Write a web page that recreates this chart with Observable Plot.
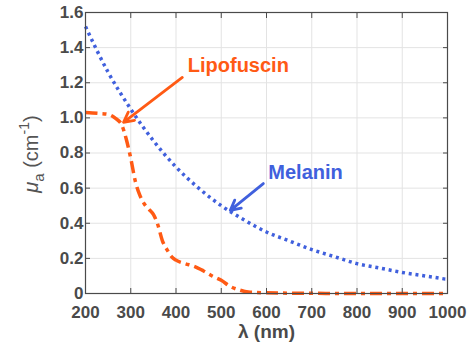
<!DOCTYPE html>
<html><head><meta charset="utf-8">
<script src="https://cdn.jsdelivr.net/npm/d3@7"></script>
<script src="https://cdn.jsdelivr.net/npm/@observablehq/plot@0.6"></script>
<style>body{margin:0;background:#fff}</style>
</head><body><div id="chart"></div>
<script>
const xTicks = [200,300,400,500,600,700,800,900,1000];
const yTicks = [0,0.2,0.4,0.6,0.8,1.0,1.2,1.4,1.6];

const melaninX = [200,250,300,350,400,450,500,550,600,650,700,750,800,850,900,950,1000];
const melaninY = [1.52,1.26,1.05,0.87,0.72,0.60,0.50,0.42,0.35,0.30,0.25,0.21,0.17,0.145,0.12,0.10,0.08];

const lipoX = [200,230,250,265,280,290,300,310,320,330,340,350,360,370,380,390,400,420,440,460,480,500,520,540,560,600,700,800,900,1000];
const lipoY = [1.03,1.025,1.02,1.00,0.96,0.88,0.77,0.64,0.56,0.51,0.48,0.45,0.39,0.30,0.25,0.21,0.19,0.17,0.155,0.13,0.10,0.075,0.04,0.02,0.008,0.004,0.001,0,0,0];

const labelNames = ["Lipofuscin","Melanin"];
const labelX = [426,604];
const labelY = [1.30,0.69];
const arrowX1 = [414,593];
const arrowY1 = [1.23,0.626];
const arrowX2 = [284,520];
const arrowY2 = [0.975,0.473];
const colors = ["#ff5a14","#4060dd"];

const melanin = melaninX.map((x,i)=>({x, y: melaninY[i]}));
const lipo = lipoX.map((x,i)=>({x, y: lipoY[i]}));
const notes = labelNames.map((t,i)=>({t, x: labelX[i], y: labelY[i], x1: arrowX1[i], y1: arrowY1[i], x2: arrowX2[i], y2: arrowY2[i], c: colors[i]}));

const axisColor = "#4a4a4a";
const plot = Plot.plot({
  width: 468, height: 349,
  marginLeft: 85, marginRight: 21, marginTop: 12, marginBottom: 56,
  style: {fontFamily: "'Liberation Sans', Arial, sans-serif", background: "#fff", color: axisColor},
  x: {domain: [200,1000]},
  y: {domain: [0,1.6]},
  marks: [
    Plot.gridX(xTicks, {stroke: "#e3e3e3", strokeOpacity: 1}),
    Plot.gridY(yTicks, {stroke: "#e3e3e3", strokeOpacity: 1}),
    Plot.line(melanin, {x: "x", y: "y", stroke: colors[1], strokeWidth: 3.5, strokeDasharray: "3,3.8", strokeLinecap: "butt", curve: "monotone-x"}),
    Plot.line(lipo, {x: "x", y: "y", stroke: colors[0], strokeWidth: 3.5, strokeDasharray: "12,5,4,5", strokeLinecap: "butt", curve: "monotone-x"}),
    Plot.arrow(notes, {x1: "x1", y1: "y1", x2: "x2", y2: "y2", stroke: "c", strokeWidth: 2.8, headLength: 6, headAngle: 55}),
    Plot.text(notes, {x: "x", y: "y", text: "t", fill: "c", fontSize: 20, fontWeight: "bold", textAnchor: "start"}),
    Plot.frame({stroke: axisColor, strokeWidth: 1.2}),
    Plot.axisX(xTicks, {anchor: "bottom", tickSize: -5, tickPadding: 17, fontSize: 17, fontWeight: "bold", label: null, stroke: axisColor, fill: axisColor, tickFormat: d => String(d)}),
    Plot.axisX(xTicks, {anchor: "top", tickSize: -5, tickFormat: () => "", label: null, stroke: axisColor}),
    Plot.axisY(yTicks, {anchor: "left", tickSize: -5, tickPadding: 7, fontSize: 17, fontWeight: "bold", label: null, stroke: axisColor, fill: axisColor, tickFormat: d => d === 0 ? "0" : d.toFixed(1)}),
    Plot.axisY(yTicks, {anchor: "right", tickSize: -5, tickFormat: () => "", label: null, stroke: axisColor}),
    Plot.text(["λ (nm)"], {frameAnchor: "bottom", dy: 44, fontSize: 19, fontWeight: "bold", fill: axisColor}),
    Plot.text(["ylab"], {frameAnchor: "left", textAnchor: "middle", rotate: -90, dx: -54, dy: 1, fontSize: 20, fill: "#555", className: "ylab"})
  ]
});
document.getElementById("chart").appendChild(plot);
const yl = plot.querySelector(".ylab text");
if (yl) {
  yl.innerHTML = '<tspan font-style="italic">μ</tspan><tspan dy="6" font-size="15">a</tspan><tspan dy="-6"> (cm</tspan><tspan dy="-9" font-size="14">-1</tspan><tspan dy="9">)</tspan>';
}
</script></body></html>
